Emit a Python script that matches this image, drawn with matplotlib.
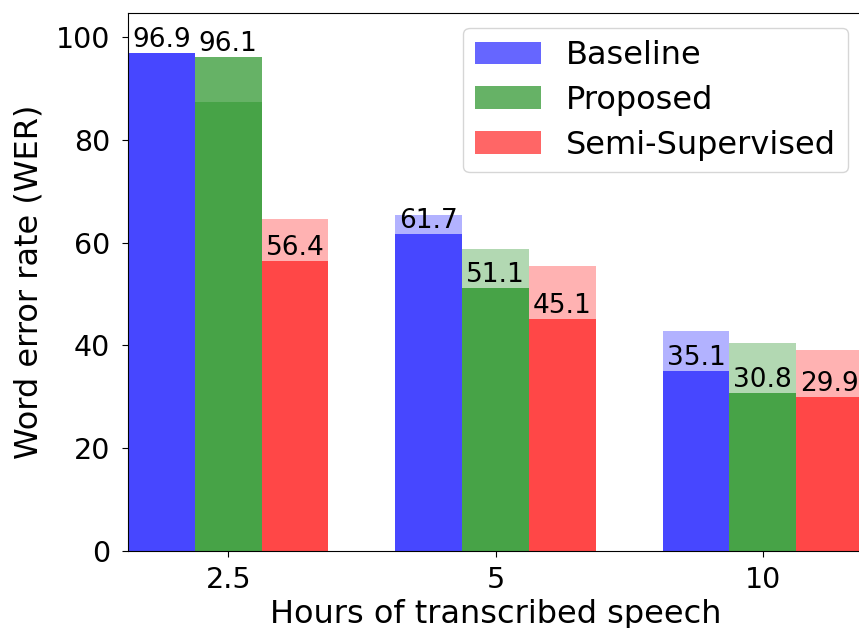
import numpy as np
import matplotlib
matplotlib.use("Agg")
import matplotlib.pyplot as plt

hours = ["2.5", "5", "10"]
methods = ["Baseline", "Proposed", "Semi-Supervised"]
colors = ["blue", "green", "red"]

# labelled WER values (drawn with alpha 0.6)
wer_main = {
    "Baseline": [96.9, 61.7, 35.1],
    "Proposed": [96.1, 51.1, 30.8],
    "Semi-Supervised": [56.4, 45.1, 29.9],
}
# second run, drawn underneath with alpha 0.3
wer_other = {
    "Baseline": [96.9, 65.4, 42.8],
    "Proposed": [87.4, 58.8, 40.5],
    "Semi-Supervised": [64.6, 55.4, 39.1],
}

fig = plt.figure(figsize=(8.59, 6.28), dpi=100)
ax = fig.add_axes([128 / 859, 77 / 628, 735 / 859, 538 / 628])

x = np.arange(len(hours))
width = 0.25

for i, (m, c) in enumerate(zip(methods, colors)):
    pos = x + (i - 1) * width
    ax.bar(pos, wer_other[m], width, color=c, alpha=0.3)
    ax.bar(pos, wer_main[m], width, color=c, alpha=0.6, label=m)
    for xp, v in zip(pos, wer_main[m]):
        ax.text(xp, v, f"{v}", ha="center", va="bottom", fontsize=19)

ax.set_xticks(x)
ax.set_xticklabels(hours)
ax.set_xlim(-0.375, 2.375)
ax.set_ylim(0, 104.7)
ax.set_yticks([0, 20, 40, 60, 80, 100])
ax.tick_params(labelsize=20.5, length=4.5)
ax.tick_params(axis="x", pad=6)
ax.tick_params(axis="y", pad=8.5)
ax.set_xlabel("Hours of transcribed speech", fontsize=23, labelpad=4)
ax.set_ylabel("Word error rate (WER)", fontsize=23)
ax.yaxis.set_label_coords(-0.113, 0.5)
ax.legend(loc="upper right", bbox_to_anchor=(0.98, 0.972), borderaxespad=0,
          fontsize=23, handlelength=2.05, handletextpad=0.8, borderpad=0.375,
          labelspacing=0.43)

fig.savefig("out.png", dpi=100)
